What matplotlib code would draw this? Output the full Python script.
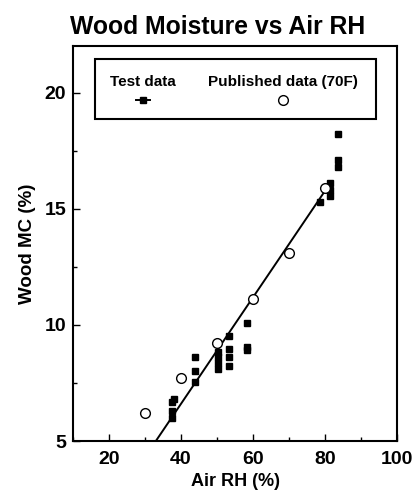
import matplotlib
matplotlib.use("Agg")
import matplotlib.pyplot as plt
from matplotlib.patches import Rectangle
from matplotlib.lines import Line2D
from matplotlib.ticker import MultipleLocator

plt.rcParams["font.family"] = ["Liberation Sans", "DejaVu Sans"]
plt.rcParams["font.weight"] = "bold"

# test data (filled squares)
test_rh = [37.5, 38.0, 37.5, 37.5,
           44.0, 44.0, 44.0,
           50.3, 50.3, 50.3, 50.3,
           53.4, 53.4, 53.4, 53.4,
           58.4, 58.4, 58.4,
           78.5, 81.5, 81.5, 81.5,
           83.7, 83.7, 83.7]
test_mc = [6.7, 6.8, 6.3, 6.0,
           8.6, 8.0, 7.55,
           8.85, 8.6, 8.35, 8.1,
           9.5, 8.95, 8.6, 8.25,
           10.1, 9.05, 8.9,
           15.3, 16.1, 15.8, 15.55,
           18.2, 17.1, 16.8]

# fitted line through test data
fit_rh = [33.0, 81.0]
fit_mc = [5.0, 16.0]

# published data at 70F (open circles)
pub_rh = [30, 40, 50, 60, 70, 80]
pub_mc = [6.2, 7.7, 9.2, 11.1, 13.1, 15.9]

fig = plt.figure(figsize=(4.16, 4.95), dpi=100)
ax = fig.add_axes([0.1755, 0.109, 0.779, 0.798])

ax.plot(fit_rh, fit_mc, color="black", lw=1.4, zorder=2)
ax.plot(test_rh, test_mc, "s", color="black", ms=4, zorder=3)
ax.plot(pub_rh, pub_mc, "o", mfc="white", mec="black", mew=1.0, ms=7, zorder=4)

ax.set_xlim(10, 100)
ax.set_ylim(5, 22)
ax.xaxis.set_major_locator(MultipleLocator(20))
ax.xaxis.set_minor_locator(MultipleLocator(10))
ax.yaxis.set_major_locator(MultipleLocator(5))
ax.yaxis.set_minor_locator(MultipleLocator(2.5))
ax.set_xticks([20, 40, 60, 80, 100])
ax.tick_params(which="major", direction="in", length=5, width=1, labelsize=14)
ax.tick_params(axis="x", which="major", pad=7)
ax.tick_params(axis="y", which="major", pad=5)
ax.tick_params(which="minor", direction="in", length=3, width=1)
for sp in ax.spines.values():
    sp.set_linewidth(1.5)

ax.set_xlabel("Air RH (%)", fontsize=13, fontweight="bold", labelpad=4)
ax.set_ylabel("Wood MC (%)", fontsize=13.5, fontweight="bold", labelpad=6)
fig.text(0.524, 0.945, "Wood Moisture vs Air RH", ha="center", va="center",
         fontsize=17.8, fontweight="bold")

# legend drawn as a box with labels above their symbols
ax.add_patch(Rectangle((0.068, 0.815), 0.867, 0.152, transform=ax.transAxes,
                       facecolor="white", edgecolor="black", lw=1.5, zorder=5))
ax.text(0.216, 0.909, "Test data", transform=ax.transAxes, ha="center", va="center",
        fontsize=11, fontweight="bold", zorder=6)
ax.text(0.648, 0.909, "Published data (70F)", transform=ax.transAxes, ha="center",
        va="center", fontsize=11, fontweight="bold", zorder=6)
ax.add_line(Line2D([0.193, 0.239], [0.863, 0.863], transform=ax.transAxes,
                   color="black", lw=1.4, zorder=6))
ax.add_line(Line2D([0.216], [0.863], transform=ax.transAxes, marker="s",
                   color="black", ms=4, zorder=6))
ax.add_line(Line2D([0.648], [0.863], transform=ax.transAxes, marker="o",
                   mfc="white", mec="black", mew=1.0, ms=7, zorder=6))

fig.savefig("out.png", dpi=100)
